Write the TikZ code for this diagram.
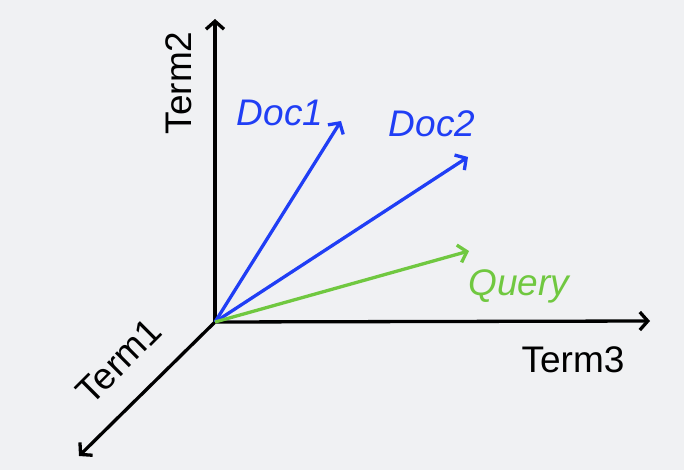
\documentclass[tikz,border=0pt]{standalone}
\usepackage{fontspec}
\setmainfont{Liberation Sans}
\usetikzlibrary{arrows.meta}
\definecolor{bgc}{RGB}{240,241,243}
\definecolor{docblue}{RGB}{32,62,245}
\definecolor{qgreen}{RGB}{112,200,64}
\tikzset{
  vec/.style={line width=3.3pt, -{Straight Barb[length=8pt,width=18pt,line width=3.3pt]}},
  lbl/.style={font=\fontsize{37}{40}\selectfont, inner sep=0pt, anchor=base},
  dlbl/.style={lbl, font=\fontsize{37}{40}\selectfont\itshape}
}
\begin{document}
\begin{tikzpicture}[x=1pt,y=-1pt]
\fill[bgc] (0,0) rectangle (684,470);
\useasboundingbox (0,0) rectangle (684,470);
\coordinate (O) at (215,322);
\coordinate (t1) at (79,456);
\coordinate (t2) at (215,19);
\coordinate (t3) at (650,321);
\coordinate (d1) at (341,121);
\coordinate (d2) at (468,157);
\coordinate (q) at (469,251);
\draw[vec, black] (O) -- (t2);
\draw[vec, black] (O) -- (t3);
\draw[vec, black] (O) -- (t1);
\draw[vec, docblue] (O) -- (d1);
\draw[vec, docblue] (O) -- (d2);
\draw[vec, qgreen] (O) -- (q);
\node[lbl, anchor=center, rotate=90] (L2) at (179,83) {Term2};
\node[lbl, anchor=center, rotate=45] (L1) at (119,361) {Term1};
\node[lbl] (L3) at (573,372) {Term3};
\node[dlbl, text=docblue] (D1) at (280,126) {Doc1};
\node[dlbl, text=docblue] (D2) at (432,137) {Doc2};
\node[dlbl, text=qgreen] (Q) at (519,295) {Query};
\end{tikzpicture}
\end{document}
